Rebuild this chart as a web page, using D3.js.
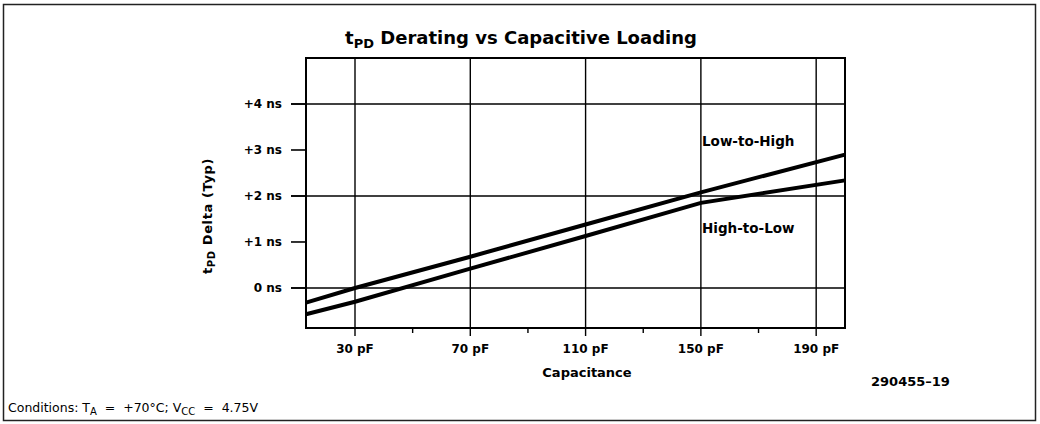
<!DOCTYPE html>
<html><head><meta charset="utf-8">
<script src="https://cdn.jsdelivr.net/npm/d3@7"></script>
<style>
body{margin:0;background:#fff}
text{font-family:"DejaVu Sans",Verdana,sans-serif;fill:#000;white-space:pre}
</style></head><body>
<svg id="c" width="1040" height="424"></svg>
<script>
const capacitance = [13, 30, 70, 110, 150, 200];
const lowToHigh = [-0.32, 0.0, 0.68, 1.38, 2.08, 2.9];
const highToLow = [-0.57, -0.30, 0.42, 1.13, 1.85, 2.34];
const xMajorTicks = [30, 70, 110, 150, 190];
const xMinorTicks = [50, 90, 130, 170];
const yTicks = [0, 1, 2, 3, 4];
const yGridTicks = [0, 2, 4];
const yTickLabels = ["0 ns", "+1 ns", "+2 ns", "+3 ns", "+4 ns"];

const svg = d3.select("#c");
const x = d3.scaleLinear().domain([13, 200]).range([306, 845]);
const y = d3.scaleLinear().domain([-0.87, 5]).range([328, 58]);

// outer frame
svg.append("rect").attr("x",3.5).attr("y",4.5).attr("width",1032).attr("height",416)
  .attr("fill","none").attr("stroke","#222").attr("stroke-width",1.5);

// title
const t = svg.append("text").attr("x",521).attr("y",44).attr("text-anchor","middle")
  .attr("font-size",18).attr("font-weight","bold");
t.append("tspan").text("t");
t.append("tspan").attr("font-size",13).attr("dy",4).text("PD");
t.append("tspan").attr("dy",-4).text(" Derating vs Capacitive Loading");

const g = svg.append("g");
// horizontal grid lines
g.selectAll(".hg").data(yGridTicks).join("line")
  .attr("x1",291).attr("x2",x.range()[1]).attr("y1",d=>y(d)).attr("y2",d=>y(d))
  .attr("stroke","#000").attr("stroke-width",1.6);
// y ticks
g.selectAll(".yt").data(yTicks).join("line")
  .attr("x1",291).attr("x2",x.range()[0]).attr("y1",d=>y(d)).attr("y2",d=>y(d))
  .attr("stroke","#000").attr("stroke-width",1.6);
g.selectAll(".yl").data(yTicks).join("text")
  .attr("x",282).attr("y",d=>y(d)+4).attr("text-anchor","end")
  .attr("font-size",12).attr("font-weight","bold")
  .text((d,i)=>yTickLabels[i]);
// vertical grid lines
g.selectAll(".vg").data(xMajorTicks).join("line")
  .attr("x1",d=>x(d)).attr("x2",d=>x(d)).attr("y1",y.range()[1]).attr("y2",336)
  .attr("stroke","#000").attr("stroke-width",1.4);
g.selectAll(".mt").data(xMinorTicks).join("line")
  .attr("x1",d=>x(d)).attr("x2",d=>x(d)).attr("y1",y.range()[0]).attr("y2",333)
  .attr("stroke","#000").attr("stroke-width",1.4);
g.selectAll(".xl").data(xMajorTicks).join("text")
  .attr("x",d=>x(d)).attr("y",353).attr("text-anchor","middle")
  .attr("font-size",12).attr("font-weight","bold")
  .text(d=>d+" pF");

// plot frame
g.append("rect").attr("x",x.range()[0]).attr("y",y.range()[1])
  .attr("width",x.range()[1]-x.range()[0]).attr("height",y.range()[0]-y.range()[1])
  .attr("fill","none").attr("stroke","#000").attr("stroke-width",2);

// series
const line = d3.line().x((d,i)=>x(capacitance[i])).y(d=>y(d));
g.append("path").attr("d",line(lowToHigh)).attr("fill","none").attr("stroke","#000").attr("stroke-width",4);
g.append("path").attr("d",line(highToLow)).attr("fill","none").attr("stroke","#000").attr("stroke-width",4);

// series labels
g.append("text").attr("x",702).attr("y",146).attr("font-size",13.5).attr("font-weight","bold").text("Low-to-High");
g.append("text").attr("x",702).attr("y",233).attr("font-size",13.5).attr("font-weight","bold").text("High-to-Low");

// axis titles
g.append("text").attr("x",587).attr("y",377).attr("text-anchor","middle")
  .attr("font-size",13).attr("font-weight","bold").text("Capacitance");
const yl = g.append("text").attr("transform","translate(212,216) rotate(-90)")
  .attr("text-anchor","middle").attr("font-size",13).attr("font-weight","bold")
  .attr("letter-spacing",0.6);
yl.append("tspan").text("t");
yl.append("tspan").attr("font-size",10).attr("dy",3).text("PD");
yl.append("tspan").attr("dy",-3).text(" Delta (Typ)");

// footnotes
const c = svg.append("text").attr("x",8).attr("y",412).attr("font-size",12.5);
c.append("tspan").text("Conditions: T");
c.append("tspan").attr("font-size",10).attr("dy",3).text("A");
c.append("tspan").attr("dy",-3).text("  =  +70°C; V");
c.append("tspan").attr("font-size",10).attr("dy",3).text("CC");
c.append("tspan").attr("dy",-3).text("  =  4.75V");
svg.append("text").attr("x",871).attr("y",386).attr("font-size",13).attr("font-weight","bold").text("290455–19");
</script>
</body></html>
